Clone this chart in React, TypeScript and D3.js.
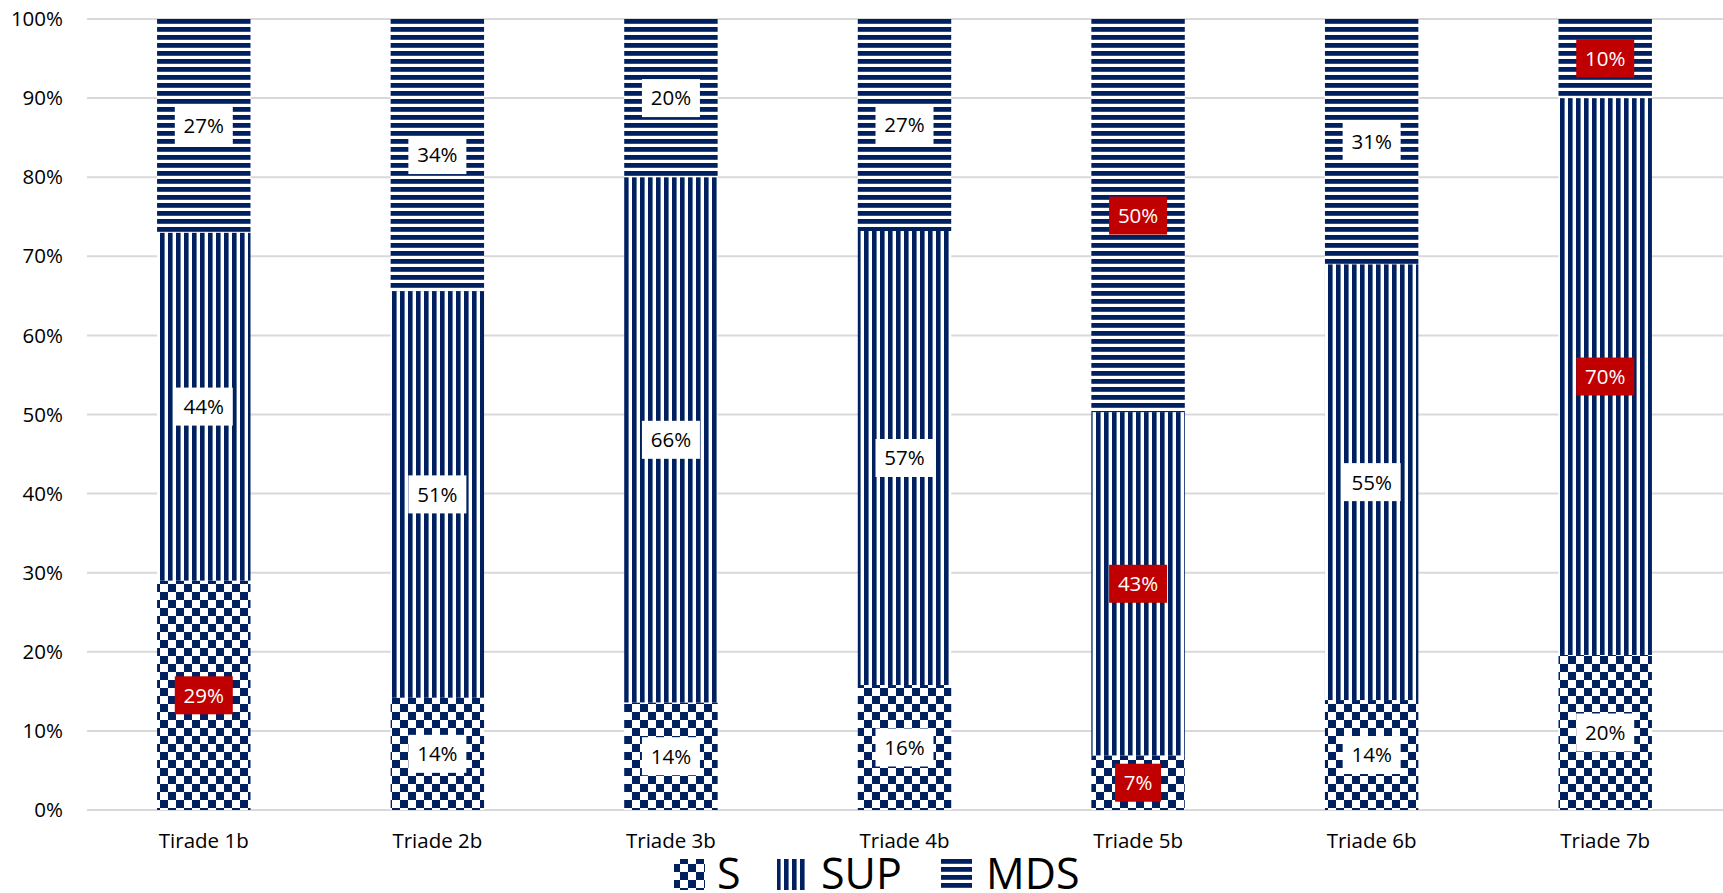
import React from 'react';
import * as d3 from 'd3';

const categories = ['Tirade 1b', 'Triade 2b', 'Triade 3b', 'Triade 4b', 'Triade 5b', 'Triade 6b', 'Triade 7b'];
const seriesNames = ['S', 'SUP', 'MDS'];
const sValues = [29, 14.2, 13.6, 15.8, 6.9, 13.9, 19.6];
const supValues = [44, 51.4, 66.4, 57.4, 43.4, 55.1, 70.4];
const mdsValues = [27, 34.4, 20.0, 26.8, 49.7, 31.0, 10.0];
const sHighlight = [true, false, false, false, true, false, false];
const supHighlight = [false, false, false, false, true, false, true];
const mdsHighlight = [false, false, false, false, true, false, true];
const yTicks = [0, 10, 20, 30, 40, 50, 60, 70, 80, 90, 100];

const W = 1723;
const H = 893;
const NAVY = '#002060';
const RED = '#C00000';
const FONT = '"Open Sans", sans-serif';

export default function App() {
  const x = d3.scaleBand<string>().domain(categories).range([87, 1722]).paddingInner(0.6).paddingOuter(0.3);
  const y = d3.scaleLinear().domain([0, 100]).range([810, 19]);

  const rows = categories.map((c, i) => ({ cat: c, S: sValues[i], SUP: supValues[i], MDS: mdsValues[i] }));
  const stack = d3.stack<any>().keys(seriesNames);
  const layers = stack(rows);
  const highlights: Record<string, boolean[]> = { S: sHighlight, SUP: supHighlight, MDS: mdsHighlight };
  const patternId: Record<string, string> = { S: 'pat-check', SUP: 'pat-vert', MDS: 'pat-horiz' };

  const legendItems = [
    { key: 'S', sx: 674, tx: 717 },
    { key: 'SUP', sx: 777, tx: 821 },
    { key: 'MDS', sx: 941, tx: 986 },
  ];

  return (
    <>
      <style>{`body{margin:0;overflow:hidden}`}</style>
      <svg width={W} height={H} style={{ display: 'block', background: '#fff' }}>
        <defs>
          <pattern id="pat-check" patternUnits="userSpaceOnUse" width={16} height={16}>
            <rect width={16} height={16} fill="#fff" />
            <rect x={0} y={0} width={8} height={8} fill={NAVY} />
            <rect x={8} y={8} width={8} height={8} fill={NAVY} />
          </pattern>
          <pattern id="pat-vert" patternUnits="userSpaceOnUse" width={8} height={8}>
            <rect width={8} height={8} fill="#fff" />
            <rect x={0} y={0} width={4.6} height={8} fill={NAVY} />
          </pattern>
          <pattern id="pat-horiz" patternUnits="userSpaceOnUse" width={8} height={8}>
            <rect width={8} height={8} fill="#fff" />
            <rect x={0} y={3} width={8} height={4.8} fill={NAVY} />
          </pattern>
        </defs>

        {yTicks.map((t) => (
          <g key={t}>
            <line x1={87} x2={W} y1={y(t)} y2={y(t)} stroke="#d9d9d9" strokeWidth={2} />
            <text x={63} y={y(t)} dy="0.35em" textAnchor="end" fontFamily={FONT} fontSize={20.5} fill="#000">
              {t}%
            </text>
          </g>
        ))}

        {layers.map((layer) => (
          <g key={layer.key}>
            {layer.map((d, i) => (
              <rect
                key={i}
                x={x(categories[i])}
                width={x.bandwidth()}
                y={y(d[1])}
                height={y(d[0]) - y(d[1])}
                fill={`url(#${patternId[layer.key]})`}
              />
            ))}
          </g>
        ))}

        {layers.map((layer) => (
          <g key={'lab' + layer.key}>
            {layer.map((d, i) => {
              const v = d[1] - d[0];
              const label = `${Math.round(v)}%`;
              const digits = label.length - 1;
              const bw = 22 + digits * 12 + 12;
              const bh = 38;
              const cx = (x(categories[i]) as number) + x.bandwidth() / 2;
              const cy = y((d[0] + d[1]) / 2);
              const hl = highlights[layer.key][i];
              return (
                <g key={i}>
                  <rect x={cx - bw / 2} y={cy - bh / 2} width={bw} height={bh} fill={hl ? RED : '#fff'} />
                  <text x={cx} y={cy} dy="0.36em" textAnchor="middle" fontFamily={FONT} fontSize={20.5} fill={hl ? '#fff' : '#000'}>
                    {label}
                  </text>
                </g>
              );
            })}
          </g>
        ))}

        {categories.map((c) => (
          <text key={c} x={(x(c) as number) + x.bandwidth() / 2} y={848} textAnchor="middle" fontFamily={FONT} fontSize={20.5} fill="#000">
            {c}
          </text>
        ))}

        {legendItems.map((l) => (
          <g key={l.key}>
            <rect x={l.sx} y={859} width={31} height={31} fill={`url(#${patternId[l.key]})`} />
            <text x={l.tx} y={889} fontFamily={FONT} fontSize={43} fill="#000">
              {l.key}
            </text>
          </g>
        ))}
      </svg>
    </>
  );
}
